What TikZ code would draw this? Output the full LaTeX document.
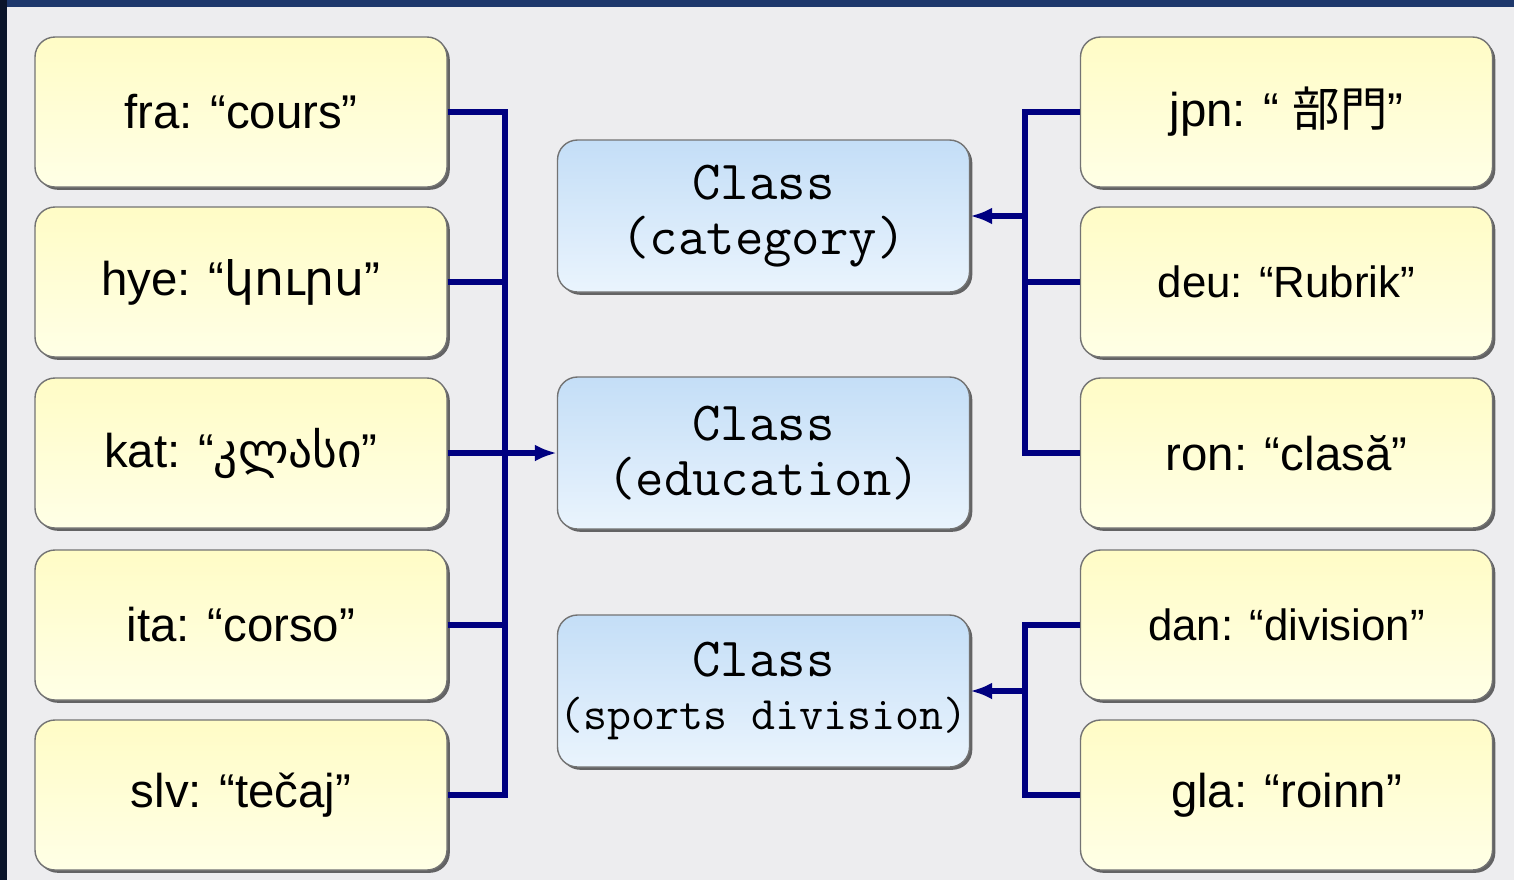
\documentclass[tikz,border=0pt]{standalone}
\usepackage{fontspec}
\setmainfont{Liberation Sans}
\newfontfamily\dejavu{DejaVu Sans}
\newfontfamily\cjk{Noto Sans CJK JP}
\usetikzlibrary{
	arrows.meta,
	calc,
	shadows
}
\definecolor{LangTop}{RGB}{255,252,198}
\definecolor{LangBot}{RGB}{255,255,230}
\definecolor{ClassTop}{RGB}{196,222,247}
\definecolor{ClassBot}{RGB}{234,244,253}
\definecolor{WireBlue}{RGB}{0,0,128}
\definecolor{PageGray}{RGB}{237,237,239}
\definecolor{FrameBlue}{RGB}{30,56,108}
\definecolor{FrameDark}{RGB}{10,20,42}

\tikzset{
	langbox/.style={draw=black!55, line width=0.7pt, rounded corners=10pt,
		top color=LangTop, bottom color=LangBot,
		minimum width=206pt, minimum height=75pt, inner sep=0pt,
		drop shadow={shadow xshift=1.4pt, shadow yshift=-1.4pt, fill=black!70, opacity=0.85},
		font=\fontsize{23.7}{28}\selectfont},
	classbox/.style={langbox, top color=ClassTop, bottom color=ClassBot,
		minimum height=76pt, align=center,
		font=\fontsize{27.6}{27.5}\selectfont\ttfamily},
	wire/.style={draw=WireBlue, line width=2.6pt},
	feed/.style={wire, -{Latex[length=11pt,width=8.5pt]}}
}

\begin{document}
\begin{tikzpicture}[x=0.5pt, y=-0.5pt]
		% 页面背景与边框
		\useasboundingbox (0,0) rectangle (1514,880);
		\fill[FrameBlue] (0,0) rectangle (1514,880);
		\fill[FrameDark] (0,0) rectangle (7,880);
		\fill[PageGray] (7,7) rectangle (1514,880);
		
		% 左列：各语言的词
		\node[langbox] (fra) at (241,112) {fra: “cours”};
		\node[langbox] (hye) at (241,282) {hye: “{\dejavu կուրս}”};
		\node[langbox] (kat) at (241,453) {kat: “{\dejavu კლასი}”};
		\node[langbox] (ita) at (241,625) {ita: “corso”};
		\node[langbox] (slv) at (241,795) {slv: “tečaj”};
		
		% 中间：三个概念
		\node[classbox] (category) at (763.5,216) {Class\\(category)};
		\node[classbox] (education) at (763.5,453) {Class\\(education)};
		\node[classbox] (sports) at (763.5,691) {Class\\[-1pt]{\fontsize{23.3}{24}\selectfont(sports division)}};
		
		% 右列：各语言的词
		\node[langbox] (jpn) at (1286.5,112) {jpn: “ {\cjk 部門}”};
		\node[langbox, font=\fontsize{21.9}{26}\selectfont] (deu) at (1286.5,282) {deu: “Rubrik”};
		\node[langbox] (ron) at (1286.5,453) {ron: “clasă”};
		\node[langbox, font=\fontsize{21.9}{26}\selectfont] (dan) at (1286.5,625) {dan: “division”};
		\node[langbox] (gla) at (1286.5,795) {gla: “roinn”};
		
		% 汇流线
		\coordinate (busL) at (505,0);
		\coordinate (busR) at (1025,0);
		
		\draw[wire] (fra.east) -| (busL |- slv.east) -- (slv.east);
		\draw[wire] (hye.east) -- (busL |- hye.east);
		\draw[wire] (ita.east) -- (busL |- ita.east);
		\draw[feed] (kat.east) -- (education.west);
		
		\draw[wire] (jpn.west) -| (busR |- ron.west) -- (ron.west);
		\draw[wire] (deu.west) -- (busR |- deu.west);
		\draw[feed] (busR |- category.east) -- (category.east);
		
		\draw[wire] (dan.west) -| (busR |- gla.west) -- (gla.west);
		\draw[feed] (busR |- sports.east) -- (sports.east);
	\end{tikzpicture}
\end{document}
